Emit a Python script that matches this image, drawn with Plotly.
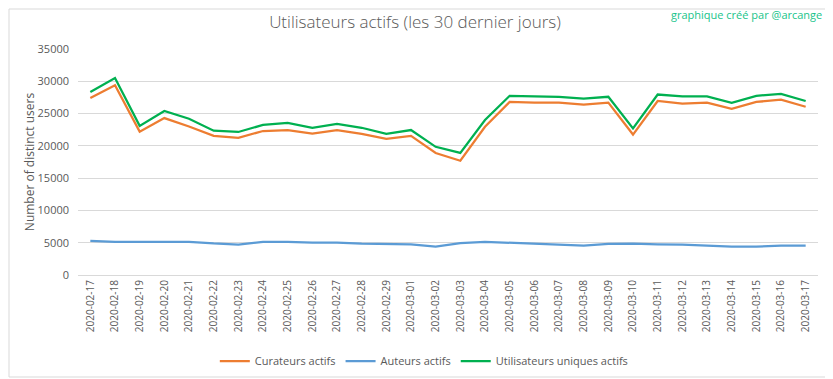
import plotly.graph_objects as go

dates = ["2020-02-17","2020-02-18","2020-02-19","2020-02-20","2020-02-21","2020-02-22","2020-02-23",
         "2020-02-24","2020-02-25","2020-02-26","2020-02-27","2020-02-28","2020-02-29","2020-03-01",
         "2020-03-02","2020-03-03","2020-03-04","2020-03-05","2020-03-06","2020-03-07","2020-03-08",
         "2020-03-09","2020-03-10","2020-03-11","2020-03-12","2020-03-13","2020-03-14","2020-03-15",
         "2020-03-16","2020-03-17"]

curateurs = [27400, 29400, 22200, 24300, 23000, 21550, 21250, 22300, 22450, 21900, 22450, 21850, 21100, 21550,
             18900, 17700, 22950, 26800, 26700, 26700, 26400, 26700, 21750, 26950, 26550, 26700, 25750, 26800,
             27150, 26050]
auteurs = [5270, 5130, 5130, 5130, 5130, 4880, 4720, 5130, 5130, 5000, 5000, 4860, 4760, 4760,
           4400, 4950, 5130, 5000, 4760, 4720, 4560, 4820, 4860, 4760, 4720, 4560, 4400, 4400,
           4560, 4560]
utilisateurs = [28350, 30500, 23100, 25400, 24200, 22350, 22150, 23250, 23550, 22800, 23400, 22800, 21850, 22450,
                19850, 18900, 24000, 27750, 27650, 27600, 27300, 27600, 22700, 27950, 27650, 27650, 26650, 27750,
                28050, 26950]

y_ticks = [0, 5000, 10000, 15000, 20000, 25000, 30000, 35000]

FONT = "Open Sans"
GRAY = "#595959"

fig = go.Figure()
fig.add_trace(go.Scatter(x=dates, y=curateurs, mode="lines", name="Curateurs actifs",
                         line=dict(color="#ED7D31", width=2.25)))
fig.add_trace(go.Scatter(x=dates, y=auteurs, mode="lines", name="Auteurs actifs",
                         line=dict(color="#5B9BD5", width=2.25)))
fig.add_trace(go.Scatter(x=dates, y=utilisateurs, mode="lines", name="Utilisateurs uniques actifs",
                         line=dict(color="#00B050", width=2.25)))

# page body has an 8px margin; compensate so screen positions match
OFF = 8
W, H = 833 - OFF, 379 - OFF
L, T = 78 - OFF, 49 - OFF
R, B = 15, 104
pw, ph = W - L - R, H - T - B

def px_x(p):
    return (p - OFF - L) / pw

def px_y(p):
    return (H - B - (p - OFF)) / ph

fig.update_layout(
    width=W, height=H,
    margin=dict(l=L, r=R, t=T, b=B, autoexpand=False),
    paper_bgcolor="white", plot_bgcolor="white",
    font=dict(family=FONT, color=GRAY, size=11),
    title=dict(text="Utilisateurs actifs (les 30 dernier jours)", x=(415 - OFF) / W, xref="container",
               xanchor="center", y=1 - (22 - OFF) / H, yref="container", yanchor="middle", automargin=False,
               font=dict(family=FONT, size=17, color=GRAY, weight=300)),
    showlegend=True,
    legend=dict(orientation="h", x=0.468, xanchor="center", y=px_y(361), yanchor="middle",
                font=dict(family=FONT, size=11, color=GRAY), itemwidth=30,
                traceorder="normal", bgcolor="rgba(0,0,0,0)"),
    xaxis=dict(type="category", range=[-0.5, len(dates) - 0.5], showgrid=False, zeroline=False,
               showline=True, linecolor="#D9D9D9", linewidth=1, automargin=False,
               tickangle=-90, tickfont=dict(family=FONT, size=10, color=GRAY), ticks="", ticklen=0),
    yaxis=dict(range=[0, 35000], tickvals=y_ticks, ticktext=[str(v) for v in y_ticks],
               showgrid=True, gridcolor="#D9D9D9", gridwidth=1, zeroline=False, automargin=False,
               tickfont=dict(family=FONT, size=11, color=GRAY), ticks="", ticklabelstandoff=8,
               title=dict(text="Number of distinct users", font=dict(family=FONT, size=12, color=GRAY),
                          standoff=0)),
    annotations=[dict(text="graphique créé par @arcange", xref="paper", yref="paper",
                      x=px_x(824), y=px_y(14), xanchor="right", yanchor="middle", showarrow=False,
                      font=dict(family=FONT, size=11, color="#17C48A"))],
    shapes=[dict(type="rect", xref="paper", yref="paper", x0=px_x(9), x1=px_x(826), y0=px_y(377),
                 y1=px_y(9), line=dict(color="#D9D9D9", width=1), fillcolor="rgba(0,0,0,0)", layer="below")],
)

fig.write_html("out.html")
